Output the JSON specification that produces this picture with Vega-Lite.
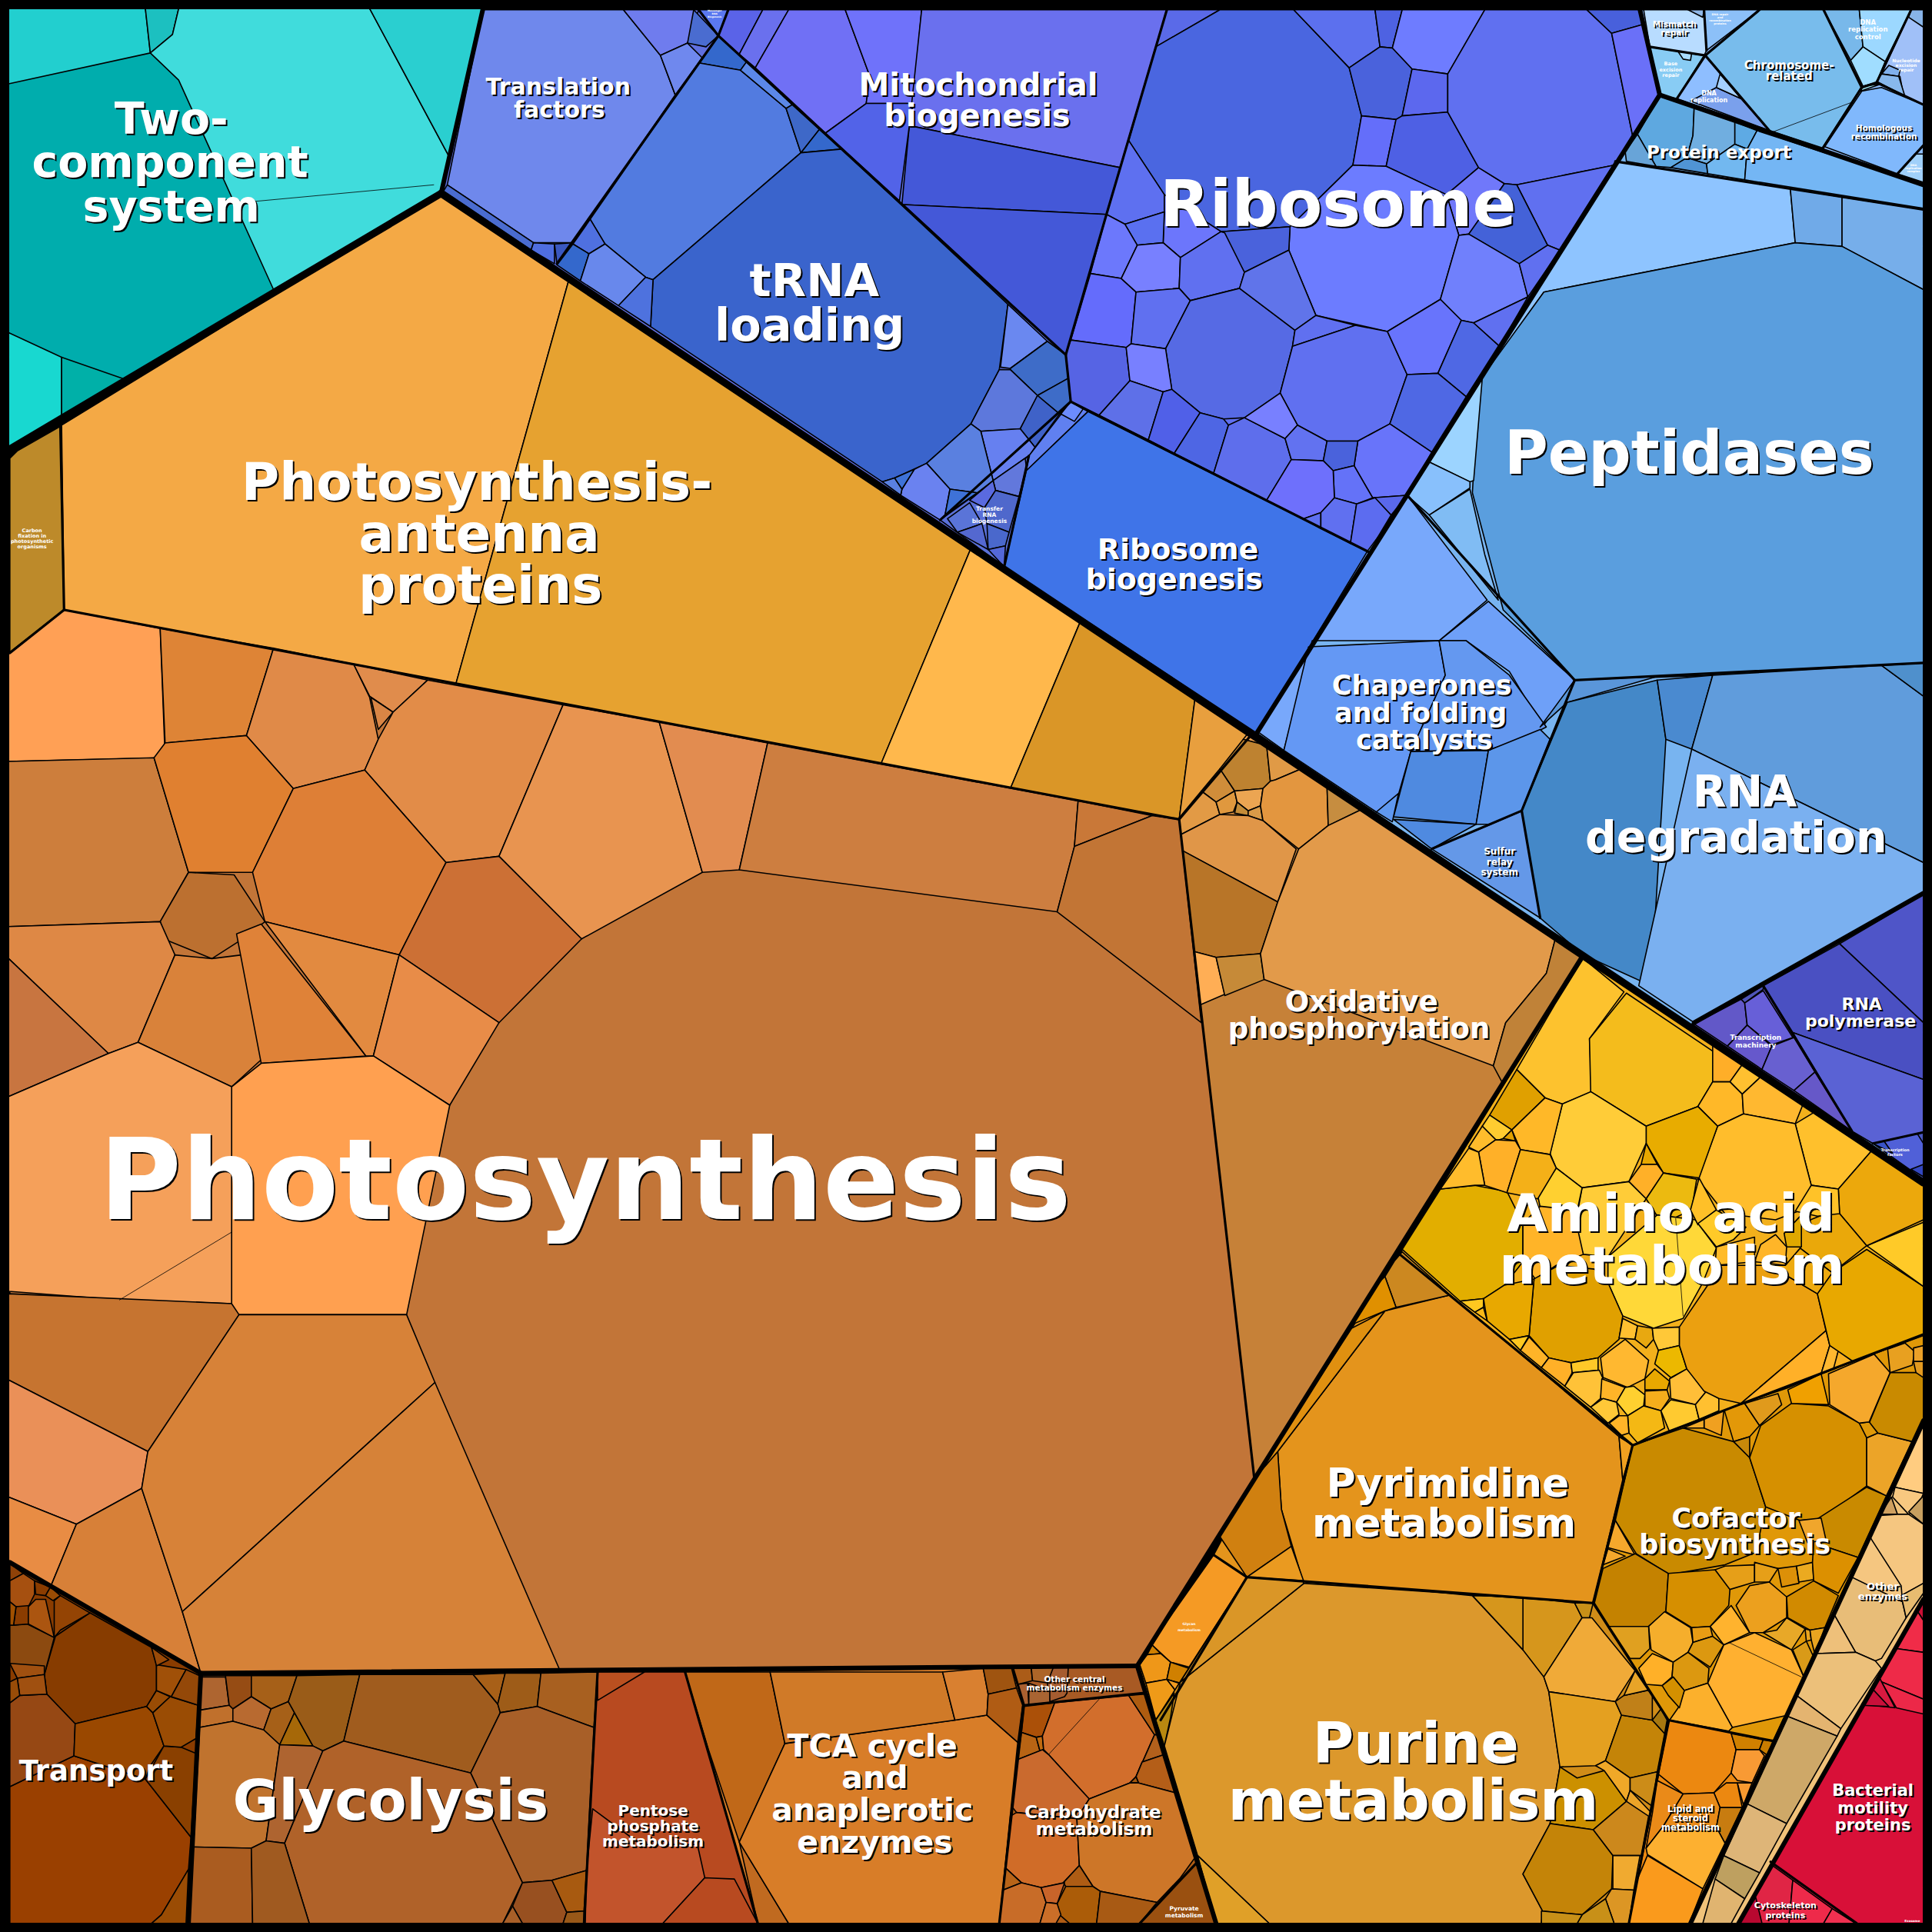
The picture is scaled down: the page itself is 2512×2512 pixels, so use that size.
{"$schema":"https://vega.github.io/schema/vega-lite/v6.json","width":2512,"height":2512,"padding":0,"autosize":"none","background":"#000000","config":{"view":{"stroke":null}},
"datasets":{"cells":[
{"c":1,"p":[[7,7],[392,7],[358,157],[7,365]]},{"c":2,"p":[[7,7],[118,7],[122,43],[7,68]]},{"c":3,"p":[[118,7],[145,7],[140,28],[122,43]]},{"c":4,"p":[[145,7],[300,7],[365,128],[358,157],[222,235],[145,65],[122,43],[140,28]]},{"c":5,"p":[[300,7],[392,7],[365,128]]},{"c":6,"p":[[7,270],[50,290],[50,342],[7,365]]},{"c":7,"p":[[50,290],[102,308],[50,342]]},
{"c":8,"p":[[392,7],[1331,7],[1347,77],[1020,595],[358,157]]},{"c":9,"p":[[392,8],[506,8],[536,45],[548,77],[465,197],[433,197],[363,150]]},{"c":10,"p":[[506,8],[567,8],[558,35],[536,45]]},{"c":11,"p":[[536,45],[558,35],[570,47],[548,77]]},{"c":12,"p":[[563,8],[583,29],[573,38],[558,35]]},{"c":13,"p":[[360,155],[363,150],[433,197],[431,203]]},{"c":14,"p":[[433,197],[450,198],[450,214],[431,203]]},{"c":15,"p":[[450,198],[465,197],[452,214]]},
{"c":16,"p":[[583,29],[567,51],[601,57],[606,50]]},{"c":17,"p":[[567,51],[601,57],[638,88],[650,124],[530,227],[524,225],[491,198],[479,178]]},{"c":18,"p":[[601,57],[606,50],[643,85],[638,88]]},{"c":19,"p":[[638,88],[643,85],[665,105],[650,124]]},{"c":20,"p":[[665,105],[683,121],[650,124]]},{"c":21,"p":[[650,124],[683,121],[818,247],[811,300],[788,344],[752,376],[726,388],[716,391],[528,265],[530,227]]},{"c":22,"p":[[479,178],[491,198],[478,206],[465,198]]},{"c":23,"p":[[465,198],[478,206],[471,228],[452,215]]},{"c":24,"p":[[478,206],[491,198],[524,225],[502,248],[471,228]]},{"c":25,"p":[[524,225],[530,227],[528,265],[502,248]]},{"c":26,"p":[[818,247],[850,277],[820,299],[812,298]]},{"c":27,"p":[[820,299],[850,277],[865,288],[867,307],[842,321],[820,300]]},{"c":28,"p":[[811,300],[820,300],[842,321],[828,348],[796,350],[788,344]]},{"c":29,"p":[[842,321],[867,307],[869,326],[860,336]]},{"c":30,"p":[[842,321],[860,336],[840,363],[828,348]]},{"c":31,"p":[[796,350],[828,348],[840,363],[836,369],[806,390]]},{"c":32,"p":[[752,376],[788,344],[796,350],[806,390],[793,400],[771,397]]},{"c":33,"p":[[742,381],[752,376],[771,397],[767,418],[763,422],[731,402],[732,397]]},{"c":34,"p":[[771,397],[793,400],[767,418]]},{"c":35,"p":[[726,388],[742,381],[732,397]]},{"c":36,"p":[[716,391],[726,388],[732,397],[731,402]]},
{"c":37,"p":[[835,370],[763,422],[815,460]]},{"c":38,"p":[[806,390],[832,372],[833,379],[827,403],[808,398]]},{"c":39,"p":[[787,406],[806,390],[808,398],[799,412]]},{"c":40,"p":[[799,412],[808,398],[827,403],[819,432],[801,425]]},{"c":41,"p":[[769,421],[787,408],[797,425],[777,432]]},{"c":42,"p":[[777,432],[797,425],[802,446]]},{"c":43,"p":[[801,425],[819,432],[816,443],[802,446]]},{"c":44,"p":[[802,446],[816,443],[815,460]]},{"c":45,"p":[[835,370],[869,326],[883,334],[833,382]]},{"c":46,"p":[[869,326],[879,332],[872,342],[861,336]]},{"c":47,"p":[[815,460],[833,382],[883,334],[1111,448],[1020,595]]},
{"c":48,"p":[[567,8],[591,8],[583,29]]},{"c":49,"p":[[591,8],[619,8],[600,44],[583,29]]},{"c":50,"p":[[619,8],[640,8],[613,55],[600,44]]},{"c":51,"p":[[640,8],[686,8],[706,62],[703,84],[670,108],[613,55]]},{"c":52,"p":[[686,8],[748,8],[741,84],[703,84],[706,62]]},{"c":53,"p":[[748,8],[947,8],[909,136],[738,102]]},{"c":54,"p":[[738,102],[909,136],[898,174],[732,166]]},{"c":55,"p":[[733,166],[898,174],[865,288]]},{"c":56,"p":[[703,84],[741,84],[738,102],[730,163],[670,108]]},
{"c":57,"p":[[947,8],[1331,8],[1347,77],[1111,448],[869,326],[865,288],[898,174]]},{"c":58,"p":[[947,8],[990,8],[938,38]]},{"c":59,"p":[[938,38],[990,8],[1050,8],[1095,55],[1105,94],[1098,134],[1047,184],[991,188],[945,158],[916,114]]},{"c":60,"p":[[1050,8],[1116,8],[1120,38],[1095,55]]},{"c":61,"p":[[1116,8],[1138,8],[1130,39],[1120,38]]},{"c":62,"p":[[1138,8],[1205,8],[1175,60],[1146,56],[1130,39]]},{"c":63,"p":[[1095,55],[1120,38],[1130,39],[1146,56],[1138,94],[1133,97],[1105,94]]},{"c":64,"p":[[1146,56],[1175,60],[1175,91],[1138,94]]},{"c":65,"p":[[1105,94],[1133,97],[1125,135],[1098,134]]},{"c":66,"p":[[1133,97],[1138,94],[1175,91],[1200,136],[1174,158],[1125,135]]},{"c":67,"p":[[1174,158],[1200,136],[1221,149],[1192,190],[1184,191]]},{"c":68,"p":[[1175,60],[1205,8],[1288,8],[1308,27],[1325,110],[1310,134],[1231,150],[1221,149],[1200,136],[1175,91]]},{"c":69,"p":[[1288,8],[1331,8],[1333,20],[1308,27]]},{"c":70,"p":[[1308,27],[1333,20],[1347,77],[1325,110]]},{"c":71,"p":[[1231,150],[1310,134],[1266,203],[1256,199]]},{"c":72,"p":[[1221,149],[1231,150],[1256,199],[1233,214],[1192,190]]},{"c":73,"p":[[1047,184],[1098,134],[1125,135],[1174,158],[1184,191],[1169,243],[1126,269],[1068,256],[1046,203]]},{"c":74,"p":[[1184,191],[1192,190],[1233,214],[1240,241],[1196,262],[1186,260],[1169,243]]},{"c":75,"p":[[1233,214],[1256,199],[1266,203],[1240,241]]},{"c":76,"p":[[938,38],[916,114],[945,158],[945,172],[913,182],[898,174]]},{"c":77,"p":[[945,172],[945,158],[991,188],[958,209],[944,197]]},{"c":78,"p":[[913,182],[945,172],[944,197],[923,199]]},{"c":79,"p":[[898,174],[913,182],[923,199],[910,226],[885,222]]},{"c":80,"p":[[991,188],[1047,184],[1046,203],[1010,221]]},{"c":81,"p":[[885,222],[910,226],[922,237],[918,279],[914,282],[869,276]]},{"c":82,"p":[[910,226],[923,199],[944,197],[958,209],[957,234],[922,237]]},{"c":83,"p":[[958,209],[991,188],[994,189],[1010,221],[1006,234],[966,244],[957,234]]},{"c":84,"p":[[922,237],[957,234],[966,244],[946,283],[918,279]]},{"c":85,"p":[[966,244],[1006,234],[1051,268],[1049,281],[1039,319],[1010,339],[993,340],[974,335],[951,316],[946,283]]},{"c":86,"p":[[1006,234],[1010,221],[1046,203],[1068,256],[1051,268]]},{"c":87,"p":[[1051,268],[1068,256],[1100,264],[1049,281]]},{"c":88,"p":[[1049,281],[1100,264],[1126,269],[1142,304],[1128,344],[1102,358],[1077,358],[1053,345],[1039,319]]},{"c":89,"p":[[1126,269],[1169,243],[1186,260],[1167,303],[1142,304]]},{"c":90,"p":[[1186,260],[1196,262],[1217,281],[1190,322],[1167,303]]},{"c":91,"p":[[1196,262],[1240,241],[1217,281]]},{"c":92,"p":[[1142,304],[1167,303],[1190,322],[1162,367],[1128,344]]},{"c":93,"p":[[1128,344],[1162,367],[1142,402],[1114,404],[1099,378],[1102,358]]},{"c":94,"p":[[1114,404],[1142,402],[1129,418]]},{"c":95,"p":[[869,276],[914,282],[917,309],[892,337],[869,326],[865,287]]},{"c":96,"p":[[914,282],[918,279],[946,283],[951,316],[944,318],[917,309]]},{"c":97,"p":[[917,309],[944,318],[932,357],[892,337]]},{"c":98,"p":[[951,316],[974,335],[953,368],[932,357],[944,318]]},{"c":99,"p":[[974,335],[993,340],[997,345],[985,384],[953,368]]},{"c":100,"p":[[997,345],[1010,339],[1043,356],[1048,373],[1028,406],[985,384]]},{"c":101,"p":[[1010,339],[1039,319],[1053,345],[1043,356]]},{"c":102,"p":[[1053,345],[1077,358],[1074,374],[1048,373],[1043,356]]},{"c":103,"p":[[1077,358],[1102,358],[1099,378],[1082,382],[1074,374]]},{"c":104,"p":[[1082,382],[1099,378],[1114,404],[1101,409],[1083,404]]},{"c":105,"p":[[1048,373],[1074,374],[1082,382],[1083,404],[1072,416],[1058,421],[1028,406]]},{"c":106,"p":[[1058,421],[1072,416],[1072,429]]},{"c":107,"p":[[1072,416],[1083,404],[1101,409],[1096,441],[1072,429]]},{"c":108,"p":[[1101,409],[1116,404],[1129,418],[1111,448],[1096,441]]},
{"c":109,"p":[[1020,595],[1347,77],[1561,150],[1561,960]]},{"c":110,"p":[[1331,8],[1561,8],[1561,150],[1347,77]]},{"c":111,"p":[[1334,8],[1383,8],[1385,41],[1383,45],[1339,38]]},{"c":112,"p":[[1370,8],[1383,8],[1382,14]]},{"c":113,"p":[[1383,8],[1428,8],[1385,41]]},{"c":114,"p":[[1339,38],[1383,45],[1361,80],[1347,77]]},{"c":115,"p":[[1362,42],[1373,43],[1372,49],[1366,48]]},{"c":116,"p":[[1384,45],[1436,106],[1361,80]]},{"c":117,"p":[[1372,82],[1393,71],[1413,80],[1436,106]]},{"c":118,"p":[[1396,60],[1413,80],[1393,71]]},{"c":119,"p":[[1384,45],[1428,8],[1480,8],[1511,70],[1479,120],[1436,106]]},{"c":120,"p":[[1480,8],[1509,8],[1512,38],[1502,49]]},{"c":121,"p":[[1509,8],[1551,8],[1530,50],[1512,38]]},{"c":122,"p":[[1512,38],[1530,50],[1523,67],[1512,70],[1502,49]]},{"c":123,"p":[[1512,70],[1527,68],[1510,74]]},{"c":124,"p":[[1551,8],[1561,8],[1561,85],[1545,78],[1542,62],[1527,60]]},{"c":125,"p":[[1549,14],[1561,22],[1561,8],[1551,8]]},{"c":126,"p":[[1527,60],[1533,53],[1542,57],[1541,62]]},{"c":127,"p":[[1523,66],[1527,60],[1541,62],[1546,78]]},{"c":128,"p":[[1511,74],[1527,71],[1561,85],[1561,118],[1540,141],[1481,119]]},{"c":129,"p":[[1540,141],[1554,125],[1561,125],[1561,148]]},
{"c":130,"p":[[1347,78],[1375,87],[1374,110],[1369,128],[1356,136],[1344,135],[1329,109]]},{"c":131,"p":[[1329,109],[1344,135],[1320,131],[1319,123]]},{"c":132,"p":[[1375,87],[1408,99],[1408,117],[1385,133],[1369,128],[1374,110]]},{"c":133,"p":[[1408,99],[1426,106],[1418,121],[1408,117]]},{"c":134,"p":[[1369,128],[1385,133],[1386,141],[1356,136]]},{"c":135,"p":[[1385,133],[1408,117],[1418,121],[1416,146],[1386,141]]},{"c":136,"p":[[1426,106],[1561,150],[1561,169],[1416,146],[1418,121]]},
{"c":137,"p":[[1311,131],[1453,153],[1457,197],[1253,237],[1203,307],[1190,322]]},{"c":138,"p":[[1453,153],[1495,160],[1495,200],[1457,197]]},{"c":139,"p":[[1495,160],[1561,170],[1561,235],[1495,200]]},{"c":140,"p":[[1253,237],[1457,197],[1495,200],[1561,235],[1561,540],[1390,548],[1278,552],[1220,495],[1195,400],[1200,310]]},{"c":141,"p":[[1190,322],[1203,307],[1196,390],[1193,391],[1160,375]]},{"c":142,"p":[[1160,375],[1193,391],[1193,396],[1160,418],[1142,402]]},{"c":143,"p":[[1160,418],[1193,397],[1205,450],[1216,487]]},
{"c":144,"p":[[1021,594],[1110,447],[1143,403],[1207,487],[1168,520],[1065,520],[1042,609]]},{"c":145,"p":[[1062,525],[1168,520],[1173,548],[1145,610],[1130,662],[1117,659],[1042,609]]},{"c":146,"p":[[1208,488],[1278,552],[1252,590],[1225,545],[1190,520],[1168,520]]},{"c":147,"p":[[1168,520],[1190,520],[1225,548],[1255,590],[1235,600],[1210,608],[1145,610],[1173,548]]},{"c":148,"p":[[1145,610],[1208,609],[1198,669],[1131,663]]},{"c":149,"p":[[1208,609],[1250,592],[1258,600],[1235,658],[1210,669],[1198,669]]},{"c":150,"p":[[1131,665],[1198,669],[1162,689]]},{"c":151,"p":[[1117,659],[1135,644],[1130,667]]},{"c":152,"p":[[1162,689],[1210,669],[1235,658],[1250,745]]},
{"c":153,"p":[[1278,552],[1345,549],[1272,570],[1250,590]]},{"c":154,"p":[[1235,658],[1272,570],[1345,552],[1352,600],[1340,800],[1285,775],[1250,745]]},{"c":155,"p":[[1345,552],[1390,548],[1373,608],[1352,600]]},{"c":156,"p":[[1390,548],[1527,540],[1561,565],[1561,700],[1373,608]]},{"c":157,"p":[[1373,608],[1561,700],[1561,725],[1375,830],[1330,800]]},{"c":158,"p":[[1527,540],[1561,538],[1561,565]]},
{"c":159,"p":[[1493,766],[1561,726],[1561,830]]},{"c":160,"p":[[1431,800],[1493,766],[1561,830],[1561,876],[1455,838]]},{"c":161,"p":[[1455,838],[1561,876],[1561,919],[1520,928],[1503,918]]},{"c":162,"p":[[1373,831],[1431,800],[1503,918]]},{"c":163,"p":[[1413,811],[1431,800],[1431,803],[1416,814]]},{"c":164,"p":[[1375,831],[1413,811],[1416,814],[1418,832],[1402,849]]},{"c":165,"p":[[1416,814],[1431,804],[1455,842],[1438,848],[1418,832]]},{"c":166,"p":[[1402,849],[1418,832],[1438,849],[1430,868]]},{"c":167,"p":[[1438,849],[1456,842],[1473,870],[1456,885],[1430,868]]},{"c":168,"p":[[1456,885],[1473,870],[1503,918]]},{"c":169,"p":[[1520,928],[1561,919],[1561,957]]},{"c":170,"p":[[1561,945],[1551,949],[1561,955]]},{"c":171,"p":[[1520,928],[1529,926],[1536,936]]},{"c":172,"p":[[1556,920],[1561,919],[1561,928]]},
{"c":173,"p":[[8,372],[14,366],[49,346],[52,495],[8,530]]},{"c":174,"p":[[50,345],[358,157],[462,226],[370,555],[52,495]]},{"c":175,"p":[[462,226],[788,445],[715,620],[370,555]]},{"c":176,"p":[[788,445],[877,504],[820,640],[715,620]]},{"c":177,"p":[[877,504],[970,566],[957,665],[820,640]]},{"c":178,"p":[[970,566],[1015,597],[957,665]]},
{"c":179,"p":[[957,665],[1015,597],[1285,775],[1018,1200]]},{"c":180,"p":[[1009,600],[1013,595],[1028,605]]},{"c":181,"p":[[1009,600],[1028,605],[1031,634],[1025,640],[1002,642],[990,624]]},{"c":182,"p":[[1028,605],[1056,624],[1035,633],[1031,634]]},{"c":183,"p":[[990,624],[1002,642],[987,651],[975,642]]},{"c":184,"p":[[975,642],[987,651],[990,661],[957,678],[956,665]]},{"c":185,"p":[[987,651],[1002,642],[1004,651],[1001,659],[990,661]]},{"c":186,"p":[[1002,642],[1025,640],[1023,654],[1013,658],[1004,651]]},{"c":187,"p":[[1004,651],[1013,658],[1013,662],[1002,660]]},{"c":188,"p":[[1013,658],[1023,654],[1025,666],[1013,662]]},{"c":189,"p":[[1025,666],[1023,654],[1025,640],[1031,634],[1035,633],[1056,624],[1077,638],[1078,670],[1054,689]]},{"c":190,"p":[[1077,638],[1105,657],[1078,670]]},{"c":191,"p":[[957,678],[990,661],[1013,662],[1025,666],[1052,689],[1037,732],[959,690]]},{"c":192,"p":[[959,690],[1037,732],[1023,774],[987,777],[968,772]]},{"c":193,"p":[[968,772],[987,777],[994,807],[973,816]]},{"c":194,"p":[[987,777],[1023,774],[1026,795],[994,808]]},{"c":195,"p":[[1054,689],[1078,670],[1105,657],[1262,763],[1255,790],[1222,830],[1212,865],[1026,795],[1023,774],[1037,732]]},{"c":196,"p":[[1262,763],[1285,777],[1220,880],[1212,865],[1222,830],[1255,790]]},
{"c":197,"p":[[8,530],[52,495],[957,665],[1018,1200],[923,1352],[163,1358],[8,1268]]},{"c":198,"p":[[7,530],[52,495],[130,510],[134,615],[7,618]]},{"c":199,"p":[[130,510],[222,526],[200,597],[134,603]]},{"c":200,"p":[[222,526],[287,539],[300,566],[307,600],[296,625],[238,640],[200,597]]},{"c":201,"p":[[287,539],[347,552],[319,578],[300,565]]},{"c":202,"p":[[301,566],[319,578],[307,592]]},{"c":203,"p":[[347,552],[457,572],[405,695],[362,700],[296,625],[307,600],[319,578]]},{"c":204,"p":[[457,572],[535,586],[570,708],[472,762],[405,695]]},{"c":205,"p":[[535,586],[623,603],[600,706],[570,708]]},{"c":206,"p":[[623,603],[875,650],[872,687],[858,740],[600,706]]},{"c":207,"p":[[875,650],[935,662],[872,687]]},{"c":208,"p":[[935,662],[957,665],[975,830],[858,740],[872,687]]},{"c":209,"p":[[7,618],[125,615],[153,708],[130,748],[7,752]]},{"c":210,"p":[[134,603],[200,597],[238,640],[205,708],[153,708],[125,615]]},{"c":211,"p":[[238,640],[296,625],[362,700],[324,775],[215,748],[205,708]]},{"c":212,"p":[[362,700],[405,695],[472,762],[405,830],[324,775]]},{"c":213,"p":[[153,708],[190,710],[215,748],[200,760],[172,778],[135,763],[130,748]]},{"c":214,"p":[[7,752],[130,748],[142,775],[112,846],[88,855],[7,778]]},{"c":215,"p":[[7,778],[88,855],[7,890]]},{"c":216,"p":[[142,775],[172,778],[196,775],[212,860],[188,882],[112,846]]},{"c":217,"p":[[192,758],[212,750],[297,857],[212,863]]},{"c":218,"p":[[215,748],[324,775],[303,857],[297,857]]},{"c":219,"p":[[324,775],[405,830],[365,897],[303,857]]},{"c":220,"p":[[188,882],[212,863],[303,857],[365,897],[330,1067],[188,1067]]},{"c":221,"p":[[7,890],[88,855],[112,846],[188,882],[188,1058],[97,1055],[7,1048]]},{"c":222,"p":[[7,1050],[188,1058],[194,1067],[120,1178],[7,1120]]},{"c":223,"p":[[7,1120],[120,1178],[115,1208],[62,1237],[7,1215]]},{"c":224,"p":[[7,1215],[62,1237],[41,1288],[7,1268]]},{"c":225,"p":[[62,1237],[115,1208],[148,1308],[163,1358],[41,1288]]},{"c":226,"p":[[194,1067],[330,1067],[353,1122],[148,1308],[115,1208],[120,1178]]},{"c":227,"p":[[353,1122],[455,1357],[163,1358],[148,1308]]},
{"c":228,"p":[[8,1268],[163,1358],[153,1561],[8,1561]]},{"c":229,"p":[[8,1450],[60,1425],[118,1444],[155,1491],[153,1517],[131,1554],[123,1561],[8,1561]]},{"c":230,"p":[[45,1328],[73,1309],[123,1337],[127,1351],[127,1372],[119,1385],[61,1399],[38,1375],[36,1359]]},{"c":231,"p":[[8,1382],[16,1376],[38,1375],[61,1399],[60,1425],[8,1450]]},{"c":232,"p":[[61,1399],[119,1385],[124,1390],[133,1417],[122,1433],[118,1444],[60,1425]]},{"c":233,"p":[[133,1417],[147,1418],[159,1423],[155,1491],[118,1444]]},{"c":234,"p":[[124,1390],[138,1377],[161,1384],[159,1411],[147,1418],[133,1417]]},{"c":235,"p":[[127,1372],[138,1377],[124,1390],[119,1385]]},{"c":236,"p":[[127,1351],[151,1355],[139,1377],[127,1372]]},{"c":237,"p":[[123,1337],[137,1347],[127,1352]]},{"c":238,"p":[[151,1355],[162,1360],[161,1384],[139,1377]]},{"c":239,"p":[[8,1319],[22,1318],[44,1329],[36,1359],[14,1362],[8,1350]]},{"c":240,"p":[[8,1350],[36,1352],[36,1359],[14,1362]]},{"c":241,"p":[[14,1362],[36,1359],[38,1375],[16,1376]]},{"c":242,"p":[[8,1365],[14,1362],[16,1376],[8,1382]]},{"c":243,"p":[[8,1269],[19,1277],[8,1283]]},{"c":244,"p":[[8,1283],[19,1277],[28,1283],[28,1294],[23,1304],[13,1304],[8,1300]]},{"c":245,"p":[[13,1304],[24,1303],[23,1318],[11,1319]]},{"c":246,"p":[[8,1300],[13,1304],[11,1319],[8,1319]]},{"c":247,"p":[[28,1283],[41,1288],[37,1295],[29,1294]]},{"c":248,"p":[[23,1304],[29,1298],[37,1298],[44,1329],[23,1318]]},{"c":249,"p":[[37,1295],[41,1288],[49,1295],[43,1299]]},{"c":250,"p":[[44,1299],[49,1295],[73,1309],[49,1323],[44,1329]]},{"c":251,"p":[[131,1554],[153,1517],[151,1561],[123,1561]]},
{"c":252,"p":[[162,1360],[485,1357],[474,1561],[153,1561]]},{"c":253,"p":[[163,1361],[183,1361],[186,1384],[162,1388]]},{"c":254,"p":[[183,1360],[204,1360],[204,1377],[189,1387],[186,1384]]},{"c":255,"p":[[204,1360],[241,1360],[234,1381],[220,1387],[204,1377]]},{"c":256,"p":[[162,1388],[186,1384],[189,1387],[189,1397],[162,1402]]},{"c":257,"p":[[189,1387],[204,1377],[220,1387],[214,1404],[189,1397]]},{"c":258,"p":[[220,1387],[234,1381],[239,1390],[227,1416],[214,1404]]},{"c":259,"p":[[239,1390],[254,1417],[227,1416]]},{"c":260,"p":[[241,1360],[292,1359],[279,1413],[262,1421],[254,1417],[234,1381]]},{"c":261,"p":[[292,1359],[384,1359],[404,1383],[406,1390],[382,1439],[279,1413]]},{"c":262,"p":[[384,1359],[410,1358],[404,1383]]},{"c":263,"p":[[410,1358],[439,1358],[436,1385],[406,1390],[404,1383]]},{"c":264,"p":[[439,1358],[485,1357],[482,1402],[436,1385]]},{"c":265,"p":[[406,1390],[436,1385],[482,1402],[476,1518],[448,1526],[424,1528],[382,1439]]},{"c":266,"p":[[162,1402],[189,1397],[214,1404],[227,1416],[216,1494],[204,1500],[157,1499]]},{"c":267,"p":[[227,1416],[254,1417],[262,1421],[231,1496],[216,1494]]},{"c":268,"p":[[262,1421],[279,1413],[382,1439],[424,1528],[408,1561],[251,1561],[231,1496]]},{"c":269,"p":[[157,1499],[204,1500],[205,1561],[153,1561]]},{"c":270,"p":[[204,1500],[216,1494],[231,1496],[251,1561],[205,1561]]},{"c":271,"p":[[424,1528],[448,1526],[460,1552],[457,1561],[424,1561],[416,1547]]},{"c":272,"p":[[448,1526],[476,1518],[474,1551],[460,1552]]},{"c":273,"p":[[460,1552],[474,1551],[474,1561],[457,1561]]},{"c":274,"p":[[416,1547],[424,1561],[408,1561]]},
{"c":275,"p":[[485,1357],[556,1357],[615,1561],[474,1561]]},{"c":276,"p":[[485,1357],[523,1357],[485,1380]]},{"c":277,"p":[[481,1468],[520,1497],[566,1497],[572,1524],[538,1561],[475,1561],[476,1518]]},{"c":278,"p":[[572,1524],[596,1525],[615,1561],[538,1561]]},
{"c":279,"p":[[556,1357],[822,1354],[831,1384],[811,1561],[615,1561]]},{"c":280,"p":[[556,1357],[625,1357],[637,1415],[600,1495],[575,1420]]},{"c":281,"p":[[600,1495],[640,1561],[615,1561]]},{"c":282,"p":[[637,1415],[775,1396],[801,1392],[826,1414],[811,1561],[640,1561],[600,1495]]},{"c":283,"p":[[625,1357],[765,1357],[775,1396],[637,1415]]},{"c":284,"p":[[765,1357],[798,1354],[802,1375],[801,1392],[775,1396]]},{"c":285,"p":[[798,1354],[821,1354],[825,1370],[802,1375]]},{"c":286,"p":[[802,1375],[825,1370],[830,1384],[826,1414],[801,1392]]},
{"c":287,"p":[[822,1354],[923,1352],[929,1374],[831,1384]]},{"c":288,"p":[[822,1354],[837,1354],[838,1364],[826,1367]]},{"c":289,"p":[[826,1367],[834,1366],[835,1384],[831,1384]]},{"c":290,"p":[[837,1354],[855,1353],[858,1367],[838,1364]]},{"c":291,"p":[[855,1353],[867,1353],[866,1374],[864,1377],[852,1381],[850,1366]]},{"c":292,"p":[[835,1366],[852,1372],[852,1382],[835,1384]]},
{"c":293,"p":[[830,1384],[929,1374],[987,1561],[811,1561]]},{"c":294,"p":[[831,1385],[856,1382],[846,1409],[841,1410],[829,1406]]},{"c":295,"p":[[829,1406],[841,1410],[844,1421],[826,1428]]},{"c":296,"p":[[841,1410],[846,1409],[847,1420],[844,1421]]},{"c":297,"p":[[856,1382],[916,1376],[937,1408],[922,1442],[917,1447],[884,1460],[851,1424],[847,1420],[846,1409]]},{"c":298,"p":[[916,1376],[929,1375],[940,1407],[937,1408]]},{"c":299,"p":[[937,1408],[940,1408],[945,1424],[927,1430],[922,1442]]},{"c":300,"p":[[927,1430],[945,1424],[954,1455],[924,1447],[922,1442]]},{"c":301,"p":[[917,1447],[922,1442],[924,1447]]},{"c":302,"p":[[826,1428],[846,1420],[851,1424],[884,1460],[874,1476],[825,1471],[821,1466]]},{"c":303,"p":[[825,1471],[874,1476],[876,1514],[863,1528],[845,1532],[829,1528],[816,1516],[820,1474]]},{"c":304,"p":[[884,1460],[917,1447],[924,1447],[954,1455],[971,1506],[958,1524],[939,1544],[893,1535],[887,1531],[876,1514],[874,1476]]},{"c":305,"p":[[863,1528],[876,1514],[887,1531],[865,1531]]},{"c":306,"p":[[816,1516],[829,1528],[814,1534]]},{"c":307,"p":[[814,1534],[829,1528],[845,1532],[849,1544],[844,1561],[811,1561]]},{"c":308,"p":[[845,1532],[864,1528],[858,1545],[849,1544]]},{"c":309,"p":[[865,1531],[887,1531],[893,1535],[890,1561],[868,1561],[860,1554],[858,1545]]},{"c":310,"p":[[849,1544],[858,1545],[861,1554],[857,1561],[844,1561]]},{"c":311,"p":[[893,1535],[939,1544],[925,1561],[890,1561]]},{"c":312,"p":[[971,1512],[987,1561],[925,1561]]},
{"c":313,"p":[[1012,1280],[985,1262],[923,1352],[938,1396]]},{"c":314,"p":[[985,1262],[1012,1280],[965,1353],[950,1349],[935,1335],[942,1323]]},{"c":315,"p":[[935,1335],[942,1342],[931,1343]]},{"c":316,"p":[[931,1343],[942,1342],[950,1349],[947,1363],[930,1366],[925,1351]]},{"c":317,"p":[[950,1349],[965,1354],[958,1366],[947,1363]]},{"c":318,"p":[[930,1366],[947,1363],[954,1372],[938,1396]]},{"c":319,"p":[[947,1363],[957,1366],[954,1372]]},
{"c":320,"p":[[1012,1280],[1293,1301],[1354,1396],[1322,1561],[987,1561],[938,1396]]},{"c":321,"p":[[953,1374],[938,1396],[945,1417],[950,1394]]},{"c":322,"p":[[1062,1282],[1195,1295],[1236,1339],[1253,1361],[1257,1373],[1266,1434],[1258,1480],[1236,1521],[1252,1551],[1251,1561],[1030,1561],[972,1506],[945,1417],[958,1365]]},{"c":323,"p":[[972,1506],[1030,1561],[987,1561]]},{"c":324,"p":[[1012,1280],[1062,1282],[958,1365]]},{"c":325,"p":[[1236,1296],[1278,1301],[1284,1313],[1253,1361],[1236,1339]]},{"c":326,"p":[[1195,1295],[1236,1296],[1236,1339]]},{"c":327,"p":[[1278,1301],[1293,1301],[1290,1313],[1284,1313]]},{"c":328,"p":[[1284,1313],[1292,1313],[1327,1356],[1311,1381],[1257,1373],[1253,1361]]},{"c":329,"p":[[1257,1373],[1311,1381],[1316,1392],[1303,1429],[1295,1433],[1266,1434]]},{"c":330,"p":[[1316,1392],[1341,1396],[1351,1407],[1345,1438],[1323,1443],[1303,1429]]},{"c":331,"p":[[1311,1381],[1318,1376],[1341,1371],[1341,1396],[1316,1392]]},{"c":332,"p":[[1341,1396],[1348,1387],[1353,1396],[1351,1407]]},{"c":333,"p":[[1318,1376],[1327,1356],[1348,1387],[1341,1371]]},{"c":334,"p":[[1280,1443],[1302,1437],[1320,1462],[1293,1485],[1258,1480],[1266,1434]]},{"c":335,"p":[[1295,1433],[1303,1429],[1323,1443],[1323,1453],[1320,1462],[1302,1437]]},{"c":336,"p":[[1323,1443],[1345,1438],[1341,1466],[1323,1453]]},{"c":337,"p":[[1320,1462],[1323,1453],[1341,1472],[1338,1485]]},{"c":338,"p":[[1293,1485],[1320,1462],[1338,1474],[1332,1506],[1309,1506]]},{"c":339,"p":[[1258,1480],[1293,1485],[1309,1506],[1308,1533],[1284,1554],[1252,1551],[1236,1521]]},{"c":340,"p":[[1309,1506],[1331,1506],[1326,1534],[1309,1533]]},{"c":341,"p":[[1308,1533],[1326,1534],[1322,1561],[1310,1561],[1303,1541]]},{"c":342,"p":[[1284,1554],[1303,1541],[1310,1561],[1280,1561]]},{"c":343,"p":[[1251,1551],[1284,1554],[1280,1561],[1251,1561]]},
{"c":344,"p":[[1355,1396],[1439,1412],[1372,1561],[1322,1561]]},{"c":345,"p":[[1355,1396],[1405,1406],[1409,1420],[1405,1439],[1391,1455],[1366,1456],[1346,1440]]},{"c":346,"p":[[1405,1407],[1431,1412],[1428,1420],[1409,1420]]},{"c":347,"p":[[1431,1412],[1439,1413],[1435,1425],[1428,1420]]},{"c":348,"p":[[1409,1420],[1428,1420],[1432,1425],[1422,1447],[1410,1445],[1405,1439]]},{"c":349,"p":[[1410,1447],[1422,1447],[1415,1465]]},{"c":350,"p":[[1401,1447],[1410,1447],[1414,1467],[1396,1467],[1391,1455]]},{"c":351,"p":[[1345,1445],[1366,1456],[1350,1482],[1336,1500],[1341,1472]]},{"c":352,"p":[[1366,1456],[1391,1455],[1396,1467],[1393,1483],[1350,1482]]},{"c":353,"p":[[1396,1467],[1414,1467],[1400,1496],[1393,1483]]},{"c":354,"p":[[1350,1482],[1393,1483],[1400,1496],[1382,1533],[1337,1505],[1336,1500]]},{"c":355,"p":[[1337,1506],[1382,1533],[1371,1561],[1322,1561],[1329,1525]]},
{"c":356,"p":[[1561,1153],[1561,1298],[1411,1561],[1372,1561]]},{"c":357,"p":[[1561,1157],[1561,1212],[1538,1207]]},{"c":358,"p":[[1538,1207],[1561,1212],[1556,1225],[1549,1229],[1536,1215]]},{"c":359,"p":[[1561,1214],[1561,1237],[1549,1227]]},{"c":360,"p":[[1535,1215],[1540,1229],[1526,1229]]},{"c":361,"p":[[1526,1230],[1540,1229],[1549,1229],[1561,1237],[1561,1285],[1543,1295],[1518,1248]]},{"c":362,"p":[[1503,1280],[1544,1300],[1547,1313],[1527,1346],[1522,1348],[1506,1341],[1489,1311]]},{"c":363,"p":[[1518,1248],[1543,1287],[1544,1300],[1503,1280]]},{"c":364,"p":[[1561,1285],[1561,1293],[1547,1313],[1543,1295]]},{"c":365,"p":[[1489,1311],[1506,1341],[1474,1342]]},{"c":366,"p":[[1474,1342],[1506,1341],[1522,1348],[1527,1354],[1494,1403],[1458,1376]]},{"c":367,"p":[[1458,1376],[1494,1403],[1491,1409],[1451,1393]]},{"c":368,"p":[[1451,1393],[1491,1409],[1450,1480],[1418,1464]]},{"c":369,"p":[[1418,1464],[1450,1480],[1428,1520],[1399,1506]]},{"c":370,"p":[[1399,1506],[1428,1520],[1416,1541],[1392,1525]]},{"c":371,"p":[[1392,1525],[1416,1541],[1405,1561],[1382,1561]]},
{"c":372,"p":[[1561,1298],[1561,1561],[1411,1561]]},{"c":373,"p":[[1561,1298],[1561,1315],[1555,1306]]},{"c":374,"p":[[1555,1306],[1561,1315],[1561,1341],[1539,1338]]},{"c":375,"p":[[1539,1338],[1561,1341],[1561,1379],[1527,1365],[1525,1361]]},{"c":376,"p":[[1527,1365],[1561,1379],[1561,1391],[1539,1386]]},{"c":377,"p":[[1525,1361],[1538,1386],[1511,1383],[1520,1371]]},{"c":378,"p":[[1520,1371],[1533,1385],[1511,1384]]},{"c":379,"p":[[1437,1513],[1455,1526],[1452,1561],[1411,1561]]},{"c":380,"p":[[1455,1526],[1487,1549],[1480,1561],[1452,1561]]},{"c":381,"p":[[1487,1549],[1506,1561],[1480,1561]]},{"c":382,"p":[[1411,1561],[1425,1540],[1430,1561]]},
{"c":383,"p":[[1325,1173],[1561,1083],[1561,1153],[1439,1413],[1354,1396],[1293,1301]]},{"c":384,"p":[[1325,1173],[1366,1159],[1407,1170],[1420,1183],[1433,1223],[1425,1260],[1400,1270],[1355,1278],[1328,1261],[1311,1234]]},{"c":385,"p":[[1420,1183],[1429,1157],[1454,1139],[1484,1141],[1509,1155],[1515,1166],[1515,1206],[1478,1233],[1461,1234],[1433,1223]]},{"c":386,"p":[[1515,1207],[1531,1214],[1508,1264],[1478,1254],[1473,1234]]},{"c":387,"p":[[1515,1167],[1524,1163],[1552,1170],[1531,1214],[1515,1206]]},{"c":388,"p":[[1524,1163],[1517,1155],[1534,1114],[1555,1114],[1561,1116],[1561,1155],[1552,1170]]},{"c":389,"p":[[1509,1155],[1517,1154],[1524,1163],[1515,1167]]},{"c":390,"p":[[1484,1115],[1521,1099],[1534,1114],[1517,1154],[1509,1155],[1485,1140]]},{"c":391,"p":[[1532,1095],[1546,1090],[1554,1097],[1552,1108],[1534,1114]]},{"c":392,"p":[[1553,1094],[1561,1092],[1561,1105],[1553,1105]]},{"c":393,"p":[[1553,1105],[1561,1105],[1561,1118],[1555,1114]]},{"c":394,"p":[[1399,1143],[1416,1139],[1428,1157],[1420,1166],[1407,1170]]},{"c":395,"p":[[1416,1139],[1443,1131],[1446,1140],[1428,1157]]},{"c":396,"p":[[1454,1139],[1451,1128],[1478,1115],[1484,1140]]},{"c":397,"p":[[1407,1170],[1420,1166],[1420,1183]]},{"c":398,"p":[[1383,1152],[1399,1145],[1397,1165],[1383,1159]]},{"c":399,"p":[[1366,1159],[1383,1152],[1383,1159]]},{"c":400,"p":[[1311,1234],[1327,1262],[1305,1256]]},{"c":401,"p":[[1305,1257],[1319,1263],[1301,1270]]},{"c":402,"p":[[1301,1273],[1327,1261],[1354,1277],[1352,1308],[1338,1320],[1306,1320],[1294,1301]]},{"c":403,"p":[[1354,1277],[1392,1274],[1404,1290],[1403,1303],[1388,1320],[1373,1321],[1352,1308]]},{"c":404,"p":[[1392,1274],[1400,1271],[1424,1270],[1424,1284],[1404,1290]]},{"c":405,"p":[[1424,1268],[1443,1273],[1436,1284],[1424,1284]]},{"c":406,"p":[[1443,1273],[1458,1271],[1460,1285],[1446,1288]]},{"c":407,"p":[[1458,1271],[1471,1268],[1472,1282],[1460,1284]]},{"c":408,"p":[[1409,1303],[1420,1287],[1436,1284],[1450,1296],[1450,1313],[1431,1325],[1420,1325]]},{"c":409,"p":[[1450,1296],[1472,1283],[1492,1295],[1481,1321],[1469,1323],[1451,1313]]},{"c":410,"p":[[1473,1234],[1478,1254],[1508,1264],[1492,1293],[1472,1283],[1471,1268]]},{"c":411,"p":[[1460,1234],[1478,1232],[1482,1250],[1467,1252]]},{"c":412,"p":[[1388,1320],[1405,1303],[1420,1325],[1399,1335]]},{"c":413,"p":[[1338,1320],[1351,1308],[1372,1321],[1374,1333],[1370,1341],[1358,1349],[1340,1339]]},{"c":414,"p":[[1373,1321],[1388,1320],[1390,1328],[1374,1333]]},{"c":415,"p":[[1374,1333],[1390,1328],[1399,1335],[1388,1353],[1370,1341]]},{"c":416,"p":[[1306,1320],[1338,1320],[1339,1338],[1331,1346],[1323,1346]]},{"c":417,"p":[[1330,1354],[1341,1342],[1358,1349],[1357,1361],[1349,1368],[1336,1367]]},{"c":418,"p":[[1358,1349],[1370,1341],[1387,1354],[1386,1366],[1367,1372],[1357,1361]]},{"c":419,"p":[[1386,1366],[1399,1335],[1424,1325],[1454,1339],[1464,1361],[1451,1392],[1406,1402]]},{"c":420,"p":[[1362,1386],[1367,1372],[1386,1366],[1406,1402],[1403,1405],[1355,1396]]},{"c":421,"p":[[1431,1325],[1442,1323],[1450,1313],[1465,1322],[1454,1339]]},{"c":422,"p":[[1455,1339],[1466,1332],[1472,1345],[1464,1361]]},{"c":423,"p":[[1465,1322],[1469,1323],[1470,1331],[1466,1332]]},{"c":424,"p":[[1469,1323],[1481,1321],[1473,1343],[1470,1331]]},{"c":425,"p":[[1349,1368],[1358,1361],[1367,1372],[1363,1386],[1354,1376]]},
{"c":426,"p":[[1285,775],[1561,960],[1561,1083],[1325,1173],[1136,1018]]},{"c":427,"p":[[1285,778],[1318,805],[1290,843],[1292,886],[1268,896],[1254,891],[1231,868],[1262,815]]},{"c":428,"p":[[1320,806],[1390,853],[1390,878],[1378,898],[1336,914],[1291,886],[1290,843]]},{"c":429,"p":[[1390,847],[1414,864],[1404,878],[1390,878]]},{"c":430,"p":[[1414,864],[1429,874],[1414,888],[1404,878]]},{"c":431,"p":[[1390,878],[1404,878],[1414,888],[1415,904],[1394,914],[1378,898]]},{"c":432,"p":[[1429,874],[1463,897],[1457,912],[1415,904],[1414,888]]},{"c":433,"p":[[1457,912],[1472,903],[1519,934],[1492,965],[1470,962]]},{"c":434,"p":[[1394,914],[1415,904],[1457,912],[1470,962],[1462,982],[1441,990],[1400,985],[1378,957]]},{"c":435,"p":[[1336,914],[1378,898],[1394,914],[1379,956],[1350,952],[1336,928]]},{"c":436,"p":[[1268,896],[1291,886],[1336,914],[1336,928],[1322,959],[1284,964],[1263,948],[1258,936]]},{"c":437,"p":[[1332,945],[1336,928],[1345,945]]},{"c":438,"p":[[1322,959],[1332,945],[1345,945],[1350,952],[1336,973]]},{"c":439,"p":[[1336,973],[1350,952],[1377,957],[1373,982],[1360,988],[1345,987]]},{"c":440,"p":[[1305,1020],[1345,986],[1376,990],[1393,1013],[1382,1041],[1366,1070],[1342,1078],[1317,1068],[1305,1041]]},{"c":441,"p":[[1284,964],[1322,959],[1336,973],[1305,1020],[1285,1018],[1278,997]]},{"c":442,"p":[[1263,948],[1284,964],[1277,997],[1250,980],[1248,970]]},{"c":443,"p":[[1138,1014],[1169,965],[1197,962],[1223,967],[1236,993],[1236,1024],[1221,1043],[1204,1054],[1185,1056]]},{"c":444,"p":[[1236,993],[1250,979],[1277,982],[1285,1018],[1263,1027],[1246,1038],[1236,1024]]},{"c":445,"p":[[1245,1038],[1265,1027],[1294,1030],[1305,1041],[1317,1068],[1314,1087],[1297,1102],[1275,1106],[1257,1102],[1241,1084]]},{"c":446,"p":[[1204,1054],[1221,1043],[1245,1038],[1241,1084],[1225,1087],[1207,1072]]},{"c":447,"p":[[1185,1056],[1204,1054],[1204,1061],[1197,1065]]},{"c":448,"p":[[1197,1065],[1204,1061],[1207,1072]]},{"c":449,"p":[[1225,1087],[1241,1084],[1234,1096]]},{"c":450,"p":[[1234,1096],[1241,1085],[1257,1102],[1251,1110]]},{"c":451,"p":[[1251,1110],[1257,1102],[1275,1106],[1276,1114],[1270,1125]]},{"c":452,"p":[[1275,1106],[1297,1102],[1297,1112],[1276,1114]]},{"c":453,"p":[[1270,1125],[1277,1114],[1298,1112],[1301,1119],[1299,1135],[1291,1142]]},{"c":454,"p":[[1299,1102],[1319,1087],[1338,1104],[1335,1119],[1321,1126],[1301,1118]]},{"c":455,"p":[[1314,1086],[1317,1070],[1329,1076],[1327,1087]]},{"c":456,"p":[[1329,1076],[1341,1078],[1342,1087],[1336,1094],[1327,1087]]},{"c":457,"p":[[1341,1078],[1363,1077],[1363,1092],[1346,1096],[1342,1087]]},{"c":458,"p":[[1346,1096],[1363,1092],[1369,1111],[1356,1118],[1343,1107]]},{"c":459,"p":[[1343,1111],[1355,1121],[1353,1128],[1335,1128],[1335,1119]]},{"c":460,"p":[[1355,1119],[1369,1111],[1385,1129],[1376,1140],[1356,1135]]},{"c":461,"p":[[1300,1119],[1319,1126],[1312,1138],[1299,1135]]},{"c":462,"p":[[1312,1138],[1319,1126],[1326,1125],[1335,1132],[1334,1141],[1321,1149]]},{"c":463,"p":[[1335,1129],[1353,1128],[1355,1135],[1348,1145],[1335,1141]]},{"c":464,"p":[[1291,1142],[1301,1135],[1312,1138],[1314,1148],[1305,1155]]},{"c":465,"p":[[1321,1149],[1334,1141],[1348,1145],[1351,1159],[1329,1171],[1322,1163]]},{"c":466,"p":[[1348,1145],[1356,1136],[1376,1140],[1379,1152],[1355,1162]]},{"c":467,"p":[[1376,1140],[1385,1129],[1395,1135],[1395,1145],[1379,1152]]},{"c":468,"p":[[1306,1155],[1314,1149],[1321,1149],[1322,1163],[1316,1165]]},{"c":469,"p":[[1363,1077],[1386,1043],[1392,1027],[1436,1027],[1475,1050],[1482,1080],[1413,1139],[1395,1135],[1383,1129],[1369,1111],[1363,1092]]},{"c":470,"p":[[1413,1139],[1482,1080],[1485,1092],[1478,1115],[1452,1126]]},{"c":471,"p":[[1485,1092],[1492,1096],[1489,1111],[1478,1115]]},{"c":472,"p":[[1492,1096],[1504,1105],[1488,1111]]},{"c":473,"p":[[1475,1050],[1487,1033],[1515,1014],[1561,1044],[1561,1084],[1504,1105],[1485,1092]]},{"c":474,"p":[[1515,1011],[1561,992],[1561,1044]]},{"c":475,"p":[[1492,965],[1519,934],[1561,961],[1561,990],[1515,1011],[1493,985]]},{"c":476,"p":[[1493,985],[1515,1011],[1487,1033],[1461,1013],[1462,993],[1484,984]]},{"c":477,"p":[[1457,983],[1470,962],[1492,965],[1493,985],[1475,987]]},{"c":478,"p":[[1448,1001],[1462,986],[1462,1012],[1450,1012]]},{"c":479,"p":[[1429,1010],[1441,1002],[1450,1012],[1449,1027],[1424,1024]]},{"c":480,"p":[[1379,956],[1393,982],[1378,994],[1372,982]]},{"c":481,"p":[[1378,993],[1393,982],[1417,996],[1407,1006],[1393,1012]]},{"c":482,"p":[[1393,1012],[1424,1004],[1424,1024],[1392,1027]]},{"c":483,"p":[[1461,1013],[1487,1033],[1475,1050],[1436,1027],[1449,1027]]},{"c":484,"p":[[1209,905],[1231,868],[1254,891],[1227,917]]},{"c":485,"p":[[1203,914],[1209,905],[1227,917],[1220,924],[1214,926]]},{"c":486,"p":[[1192,931],[1203,914],[1214,925],[1200,935]]},{"c":487,"p":[[1227,917],[1254,891],[1268,896],[1258,937],[1234,933]]},{"c":488,"p":[[1200,935],[1214,925],[1230,926],[1234,933],[1223,968],[1205,962]]},{"c":489,"p":[[1234,933],[1258,937],[1263,948],[1248,973],[1223,968]]},{"c":490,"p":[[1169,965],[1192,932],[1200,935],[1205,962],[1197,962]]},{"c":491,"p":[[1220,924],[1227,917],[1230,926]]},
{"c":492,"p":[[1136,1018],[1325,1173],[1293,1301],[1012,1280],[985,1262],[1018,1200]]},{"c":493,"p":[[1124,1064],[1177,1051],[1314,1166],[1317,1201],[1293,1301],[1058,1285],[1040,1225],[1037,1178]]},{"c":494,"p":[[1314,1166],[1325,1173],[1317,1201]]},{"c":495,"p":[[1138,1016],[1177,1051],[1133,1061],[1124,1036],[1132,1023]]},{"c":496,"p":[[1115,1045],[1124,1036],[1133,1061],[1124,1064],[1097,1075]]},{"c":497,"p":[[1018,1200],[1037,1178],[1040,1225],[1048,1255],[1012,1280],[990,1247]]},{"c":498,"p":[[1012,1280],[1048,1255],[1058,1283]]},{"c":499,"p":[[1018,1200],[1097,1078],[1124,1064],[1037,1178]]}
],
"edges":[
{"o":1,"tier":"major","p":[[358,157],[1561,960]]},{"o":2,"tier":"major","p":[[7,365],[358,157]]},{"o":46,"tier":"mid","p":[[358,157],[392,7]]},{"o":3,"tier":"mid","p":[[1020,595],[1347,77],[1331,8]]},{"o":4,"tier":"mid","p":[[1347,77],[1561,150]]},{"o":5,"tier":"mid","p":[[1285,775],[923,1352],[987,1561]]},{"o":6,"tier":"mid","p":[[923,1352],[163,1358],[8,1268]]},{"o":7,"tier":"mid","p":[[163,1358],[153,1561]]},{"o":8,"tier":"mid","p":[[1375,830],[1561,725]]},{"o":9,"tier":"mid","p":[[1561,1153],[1372,1561]]},{"o":10,"tier":"mid","p":[[1561,1298],[1411,1561]]},
{"o":11,"tier":"minor","p":[[583,29],[452,214]]},{"o":12,"tier":"minor","p":[[567,8],[583,29],[865,288]]},{"o":13,"tier":"minor","p":[[591,8],[583,29]]},{"o":14,"tier":"minor","p":[[947,8],[898,174],[865,288],[869,326],[1111,448]]},{"o":15,"tier":"minor","p":[[869,326],[763,422]]},{"o":16,"tier":"minor","p":[[835,370],[815,460]]},{"o":17,"tier":"minor","p":[[1143,403],[1278,552],[1561,538]]},{"o":18,"tier":"minor","p":[[1278,552],[1235,658],[1250,745]]},{"o":19,"tier":"minor","p":[[1162,689],[1235,658]]},{"o":20,"tier":"minor","p":[[1431,800],[1503,918]]},{"o":21,"tier":"minor","p":[[1520,928],[1561,919]]},{"o":22,"tier":"minor","p":[[1339,38],[1384,45],[1428,8]]},{"o":23,"tier":"minor","p":[[1383,8],[1385,41]]},{"o":24,"tier":"minor","p":[[1384,45],[1361,80]]},{"o":25,"tier":"minor","p":[[1384,45],[1436,106]]},{"o":26,"tier":"minor","p":[[1480,8],[1511,71],[1479,121]]},{"o":27,"tier":"minor","p":[[1511,71],[1523,67],[1551,8]]},{"o":28,"tier":"minor","p":[[1523,67],[1561,85]]},{"o":29,"tier":"minor","p":[[1540,141],[1561,118]]},{"o":30,"tier":"minor","p":[[1311,131],[1561,170]]},{"o":31,"tier":"minor","p":[[49,346],[52,495]]},{"o":32,"tier":"minor","p":[[8,530],[52,495],[957,665],[1015,597]]},{"o":33,"tier":"minor","p":[[957,665],[1018,1200]]},{"o":34,"tier":"minor","p":[[1136,1018],[1325,1173],[1293,1301],[1012,1280],[985,1262]]},{"o":35,"tier":"minor","p":[[1012,1280],[942,1396]]},{"o":36,"tier":"minor","p":[[1293,1301],[1354,1396],[1322,1561]]},{"o":37,"tier":"minor","p":[[1354,1396],[1439,1413]]},{"o":38,"tier":"minor","p":[[1325,1173],[1561,1083]]},{"o":39,"tier":"minor","p":[[485,1357],[474,1561]]},{"o":40,"tier":"minor","p":[[556,1357],[615,1561]]},{"o":41,"tier":"minor","p":[[822,1354],[831,1384],[811,1561]]},{"o":42,"tier":"minor","p":[[831,1384],[929,1374]]},{"o":43,"tier":"minor","p":[[925,1561],[971,1512]]},{"o":44,"tier":"minor","p":[[1437,1511],[1507,1561]]},
{"o":47,"tier":"hair","p":[[190,165],[352,150]]},{"o":48,"tier":"hair","p":[[97,1055],[188,1000]]},{"o":49,"tier":"hair","p":[[1439,107],[1503,83]]},{"o":50,"tier":"hair","p":[[1403,1333],[1462,1361]]},{"o":51,"tier":"hair","p":[[851,1424],[893,1378]]},{"o":52,"tier":"hair","p":[[1360,989],[1366,1068]]},
{"o":45,"tier":"frame","p":[[0,0],[1568,0],[1568,1568],[0,1568],[0,0]]}
],
"labels":[
{"t":"Two-","x":139,"y":98,"a":57},{"t":"component","x":138,"y":133,"a":57},{"t":"system","x":139,"y":169,"a":57},{"t":"Translation","x":453,"y":71,"a":30},{"t":"factors","x":454,"y":90,"a":30},{"t":"Mitochondrial","x":794,"y":70,"a":40},{"t":"biogenesis","x":793,"y":95,"a":40},{"t":"Ribosome","x":1086,"y":168,"a":84},{"t":"tRNA","x":661,"y":229,"a":59},{"t":"loading","x":657,"y":265,"a":59},{"t":"Photosynthesis-","x":387,"y":393,"a":67.5},{"t":"antenna","x":389,"y":435,"a":67.5},{"t":"proteins","x":390,"y":477,"a":67.5},{"t":"Ribosome","x":956,"y":447,"a":38},{"t":"biogenesis","x":953,"y":471,"a":38},{"t":"Peptidases","x":1371,"y":370,"a":77.5},{"t":"Chaperones","x":1154,"y":557,"a":35},{"t":"and folding","x":1153,"y":579,"a":35},{"t":"catalysts","x":1156,"y":601,"a":35},{"t":"RNA","x":1416,"y":644,"a":57},{"t":"degradation","x":1409,"y":681,"a":57},{"t":"Sulfur","x":1217,"y":691,"a":12},{"t":"relay","x":1217,"y":699.5,"a":12},{"t":"system","x":1217,"y":708,"a":12},{"t":"RNA","x":1511,"y":815,"a":22},{"t":"polymerase","x":1510,"y":829,"a":22},{"t":"Transcription","x":1425,"y":842,"a":9},{"t":"machinery","x":1425,"y":848,"a":9},{"t":"Transcription","x":1538,"y":933,"a":5},{"t":"factors","x":1538,"y":937,"a":5},{"t":"Photosynthesis","x":475,"y":962,"a":146},{"t":"Oxidative","x":1105,"y":814,"a":37},{"t":"phosphorylation","x":1103,"y":836,"a":37},{"t":"Amino acid","x":1356,"y":986,"a":68.5},{"t":"metabolism","x":1357,"y":1029,"a":68},{"t":"Pyrimidine","x":1175,"y":1205,"a":52},{"t":"metabolism","x":1172,"y":1237,"a":52},{"t":"Cofactor","x":1409,"y":1233,"a":35},{"t":"biosynthesis","x":1408,"y":1254,"a":35},{"t":"Purine","x":1149,"y":1417,"a":73},{"t":"metabolism","x":1147,"y":1463,"a":73},{"t":"Other","x":1528,"y":1288,"a":13},{"t":"enzymes","x":1528,"y":1296,"a":13},{"t":"Lipid and","x":1372,"y":1469,"a":11.5},{"t":"steroid","x":1372,"y":1476.5,"a":11.5},{"t":"metabolism","x":1372,"y":1484,"a":11.5},{"t":"Glycan","x":965,"y":1318.5,"a":4.5},{"t":"metabolism","x":965,"y":1323,"a":4.5},{"t":"Other central","x":872,"y":1363.5,"a":10.5},{"t":"metabolism enzymes","x":872,"y":1370,"a":10.5},{"t":"TCA cycle","x":708,"y":1418,"a":41},{"t":"and","x":710,"y":1444,"a":41},{"t":"anaplerotic","x":708,"y":1470,"a":41},{"t":"enzymes","x":710,"y":1496,"a":41},{"t":"Carbohydrate","x":887,"y":1471,"a":23},{"t":"metabolism","x":888,"y":1485,"a":23},{"t":"Pentose","x":530,"y":1470,"a":20},{"t":"phosphate","x":530,"y":1482.5,"a":20},{"t":"metabolism","x":530,"y":1495,"a":20},{"t":"Glycolysis","x":317,"y":1463,"a":73},{"t":"Transport","x":78,"y":1438,"a":37},{"t":"Pyruvate","x":961,"y":1549,"a":7.5},{"t":"metabolism","x":961,"y":1555,"a":7.5},{"t":"Bacterial","x":1520,"y":1454,"a":21},{"t":"motility","x":1520,"y":1468,"a":21},{"t":"proteins","x":1520,"y":1482,"a":21},{"t":"Cytoskeleton","x":1449,"y":1547,"a":11},{"t":"proteins","x":1449,"y":1555,"a":11},{"t":"Carbon","x":26,"y":430.5,"a":6.5},{"t":"fixation in","x":26,"y":435,"a":6.5},{"t":"photosynthetic","x":26,"y":439.5,"a":6.5},{"t":"organisms","x":26,"y":444,"a":6.5},{"t":"Transfer","x":803,"y":413,"a":7.5},{"t":"RNA","x":803,"y":418,"a":7.5},{"t":"biogenesis","x":803,"y":423,"a":7.5},{"t":"Mismatch","x":1359,"y":20,"a":10.5},{"t":"repair","x":1359,"y":27,"a":10.5},{"t":"DNA repair","x":1396,"y":12,"a":3.5},{"t":"and","x":1396,"y":14.5,"a":3.5},{"t":"recombination","x":1396,"y":17,"a":3.5},{"t":"proteins","x":1396,"y":19.5,"a":3.5},{"t":"Base","x":1356,"y":52,"a":6.5},{"t":"excision","x":1356,"y":56.5,"a":6.5},{"t":"repair","x":1356,"y":61,"a":6.5},{"t":"DNA","x":1387,"y":76,"a":8},{"t":"replication","x":1387,"y":81.5,"a":8},{"t":"Chromosome-","x":1452,"y":53,"a":15},{"t":"related","x":1452,"y":62,"a":15},{"t":"DNA","x":1516,"y":18,"a":8.5},{"t":"replication","x":1516,"y":24,"a":8.5},{"t":"control","x":1516,"y":30,"a":8.5},{"t":"Nucleotide","x":1547,"y":49,"a":6},{"t":"excision","x":1547,"y":53,"a":6},{"t":"repair","x":1547,"y":57,"a":6},{"t":"Homologous","x":1529,"y":104,"a":10.5},{"t":"recombination","x":1529,"y":111,"a":10.5},{"t":"DNA","x":1553,"y":134.5,"a":3.5},{"t":"replication","x":1553,"y":137,"a":3.5},{"t":"complex","x":1553,"y":139.5,"a":3.5},{"t":"Protein export","x":1395,"y":124,"a":23},{"t":"Messenger","x":580,"y":8.5,"a":3},{"t":"RNA","x":580,"y":11,"a":3},{"t":"Biogenesis","x":580,"y":13.5,"a":3},{"t":"Exosome","x":1552,"y":1559,"a":4}
]},
"layer":[
{"data":{"name":"cells"},"transform":[{"flatten":["p"]}],"mark":{"type":"line","filled":true,"interpolate":"linear-closed","stroke":"#000000","strokeWidth":1.6,"strokeJoin":"round","order":null},
"encoding":{"x":{"field":"p[0]","type":"quantitative","scale":{"domain":[0,1568],"nice":false,"zero":false},"axis":null},"y":{"field":"p[1]","type":"quantitative","scale":{"domain":[1568,0],"nice":false,"zero":false},"axis":null},"detail":{"field":"c","type":"nominal"},
"fill":{"field":"c","type":"ordinal","legend":null,"scale":{"range":[
"#00adad","#22cfcf","#1cc0c0","#40dcdc","#2acfd0","#18d8d0","#00b0a8","#6070e0","#6f88ec","#6f7cee","#6f88ee","#4a6cd0","#4a6cd0","#4f6ee0","#3a58c0","#3468cc","#527be0","#5b88e8","#3e68c8","#3468cc","#3a64cc","#4f70e0","#3468cc","#6888ec","#4e72de","#6a88f0","#3e6cc8","#5d78dc","#3e6cc8","#3f62c8","#6680f0","#5a80e0","#6a82f0","#3e72d8","#3e72d8","#5a80e0","#5a70d8","#6278dc","#5a6adf","#4f68cc","#5a74d8","#5468d0","#4a68cc","#5468d8","#6080f0","#6c8cff","#3f74e8","#5a78f0","#5a63e8","#6a70ee","#7070f5","#6f72fa","#6a70ee","#4458d8","#4458d8","#5263e8",
"#6070f0","#5a6ae8","#4a66e0","#5c70ee","#4e62e2","#6e7cff","#4a62dc","#5c68ee","#646efa","#4e60e4","#7078fa","#6070f0","#4860dc","#6a70f8","#6070f0","#4462d8","#6c7cff","#7080fc","#6070f0","#5e70f0","#6c76fc","#5a70f0","#6c78fc","#4a62dc","#646cfc","#7880ff","#6070f0","#6070f0","#566ae4","#6074ea","#6070f0","#6070f0","#6874fc","#4f68e4","#6070f0","#4f68e4","#6874fa","#5a68ea","#5664e4","#7880ff","#5e70e8","#5060e8","#4e66e4","#5e6eec","#7880ff","#6272f0","#4a62dc","#6472f8","#6e70fc","#5e70f0","#6070f0","#5c6cf0",
"#78b4f0","#8ebeff","#b8dcff","#90b8e8","#8cc0f8","#88ccf4","#a8dcff","#8ebeff","#7aa0ec","#a4d0ff","#78bcec","#78b8ea","#9cd8ff","#a0ddff","#a0e4f0","#a0c0f8","#88b4e8","#80b0ec","#88b8ec","#80b8fc","#a0d0fa","#5ea8e0","#68a4d8","#70aee0","#5eaae4","#5094d4","#72b8f0","#74b6f4","#8ec4ff","#70aae8","#76aeea","#5a9ede","#9cd4ff","#88c0fc","#80bcf4","#78a8fb","#6498f4","#6ea0f8","#6498f0","#4f8ae0","#5c96ea","#4f8ae0","#5f98f0","#6498e8","#5a96da","#4488c8","#4a8ad0","#609cdc","#7ab0f0","#4f90cc","#4f55c8","#4a50c2","#5a62d4","#6658c8","#4f55b8","#6258c8","#675fd8","#6658cc","#6860d0","#6658c8","#5060d8","#3448c0","#3a54c8","#4a58c0",
"#bd8a2a","#f4a945","#e6a230","#ffb84c","#da9627","#e89f3e","#c68138","#f0a250","#be8230","#e09a46","#d08d3a","#e29a45","#e0983e","#eca552","#c48c38","#d89a48","#e3963f","#c68d40","#e09648","#b87528","#ffae55","#c68a38","#e29a4a","#c08238","#c27538","#ffa055","#de8436","#e08a48","#e08c4c","#d98545","#e28c48","#e89450","#e28c50","#cd7e40","#c97838","#c27535","#cd7e3c","#e08030","#de7f36","#cc7035","#bc7030","#de8845","#c87540","#d9823a","#df8238","#e28a40","#e88c48","#ffa050","#f5a05a","#c67430","#ea9058","#e88c44","#d78038","#d78238","#d68238",
"#8a3c00","#9a4000","#873c00","#964814","#9a4800","#8a4000","#9a4c04","#9a4c04","#a05008","#9a4a08","#944808","#8c4a10","#a05010","#a05010","#984c08","#8f4208","#a65010","#8a3c00","#a05000","#8a3c00","#ab5510","#9a4c04","#944404","#9a4c04",
"#a85c20","#ae6530","#964c14","#a66018","#c0702c","#b86a30","#a66018","#a66808","#9a5c18","#a05c1e","#a86018","#9e5c18","#a86020","#a85f28","#c0732e","#ae6430","#b06229","#aa5c20","#a05a20","#985020","#a85a10","#985818","#a85f28","#b84a20","#ba5020","#c2542c","#b84a20","#d87d28","#c06818","#c06a20","#d87d28","#d07a28","#d98030","#9f5410","#b05c14","#a85a24","#ab5c18","#aa6030","#ad6528","#a65c30","#a96432","#b05c14","#ab5008","#b86414","#c06a10","#d26e2c","#ae5c10","#b2601c","#b45e18","#a0560c","#ca6a2e","#d06c28","#cd7628","#ae5c14","#b86418","#c86c28","#c8642a","#ab5c08","#cb6e28","#a85a14","#9a5010",
"#f09a18","#f59a24","#d08000","#ef9718","#d08000","#ef9a18","#f09a20","#d08c18","#b88810","#dc982c","#e0a028","#da9627","#d6961c","#d6961c","#c89018","#f0aa38","#e4a020","#c48408","#c08018","#a87810","#e8a428","#cc9000","#f0a828","#cc8c18","#eca428","#cc881c","#c48408","#f0aa30","#dc9624","#c89018","#c89018","#ec8810","#ec8810","#d08000","#c87c00","#f89a34","#f89a30","#ec8810","#ea8a18","#e88a18","#c87c10","#fdb030","#fa9a1c",
"#f0c27a","#ffcc80","#f8c880","#c8a060","#cfa060","#f5c680","#e8bd78","#f5c680","#e8bc70","#eec07a","#ecc07a","#e4b470","#cea868","#deb578","#bea060","#e0b470","#d81038","#cc0f35","#f02c48","#ee2a48","#ec2848","#d81a40","#c8103a","#e02545","#ee2a4a","#f03050","#b80830",
"#e09808","#c98a00","#d69000","#c98a00","#eca428","#c98a00","#e09808","#f5a82c","#e8a020","#eba028","#e39a20","#e39808","#e09a1c","#f0a000","#c8880a","#f0a020","#f0a828","#f5a82c","#f5a82c","#c48200","#d68f00","#e69f18","#e69f18","#dc9008","#ebaa20","#eca01e","#d18a00","#dc9000","#f0a62c","#ffb32e","#f5ae2c","#e89c14","#dc9810","#e0a020","#ffb028","#dc9810","#ffb030","#fcb02c","#e8a828","#d99a18","#e8a420","#e8a420","#d49000",
"#f2b01c","#fdc22e","#f4bc1c","#ffae28","#ffc030","#ffb828","#ffb830","#ffc02c","#ffbd2c","#e8ac00","#ffcc38","#e8a800","#ffb028","#ecba10","#ffd838","#ffcc38","#ffd030","#e2ae00","#ffb428","#e0a000","#e8a800","#ffc820","#f8b818","#ffc820","#ffb428","#ffb028","#ffc828","#ffc238","#ffb830","#ffc030","#e8a810","#ffc838","#ecb800","#e8a800","#ffbe38","#ffb428","#ffd030","#f5ae1c","#ffc838","#f4b814","#ffca30","#ffc030","#ffb428","#eba010","#ffb028","#ffb830","#f8b020","#e8a800","#ffca28","#eca80c","#eaa80a","#ffc228","#e0a800","#ffb528","#ffc028","#ffca28","#ffbb28","#eeaa10","#e0a000","#ffcc30","#ffbc2c","#ffb828","#ffb028","#f4b018","#ffbc2c","#e0a000",
"#e4941c","#e4941c","#f0a020","#cc8820","#e09000","#d08010","#ea9a20","#e09010"
]}}}},
{"data":{"name":"edges"},"transform":[{"flatten":["p"]}],"mark":{"type":"line","stroke":"#000000","strokeJoin":"miter","strokeCap":"round","order":null},
"encoding":{"x":{"field":"p[0]","type":"quantitative"},"y":{"field":"p[1]","type":"quantitative"},"detail":{"field":"o","type":"nominal"},
"size":{"field":"tier","type":"nominal","legend":null,"scale":{"type":"ordinal","domain":["major","mid","minor","hair","frame"],"range":[9.5,6,3.2,0.8,24]}}}},
{"data":{"name":"labels"},"transform":[{"filter":"datum.a>=10"}],"mark":{"type":"text","font":"DejaVu Sans","fontWeight":"bold","fill":"#000000","dx":2,"dy":2,"baseline":"middle","align":"center"},
"encoding":{"x":{"field":"x","type":"quantitative"},"y":{"field":"y","type":"quantitative"},"text":{"field":"t","type":"nominal"},"size":{"field":"a","type":"quantitative","legend":null,"scale":{"domain":[0,150],"range":[0,150],"zero":true}}}},
{"data":{"name":"labels"},"mark":{"type":"text","font":"DejaVu Sans","fontWeight":"bold","fill":"#ffffff","baseline":"middle","align":"center"},
"encoding":{"x":{"field":"x","type":"quantitative"},"y":{"field":"y","type":"quantitative"},"text":{"field":"t","type":"nominal"},"size":{"field":"a","type":"quantitative","legend":null,"scale":{"domain":[0,150],"range":[0,150],"zero":true}}}}
]}
